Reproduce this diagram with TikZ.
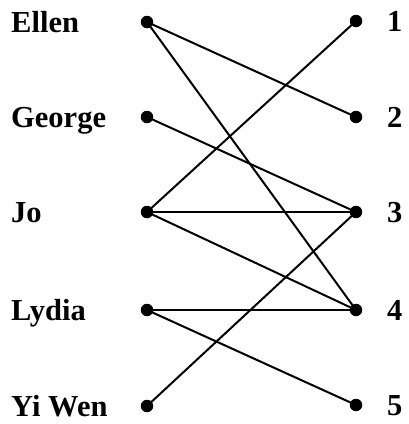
\documentclass[tikz,border=0pt]{standalone}
\usepackage{fontspec}
\setmainfont{Liberation Serif}
\begin{document}
\begin{tikzpicture}[x=1pt,y=-1pt,
  vdot/.style={circle,fill=black,inner sep=0pt,minimum size=12.5pt},
  lab/.style={anchor=base west,inner sep=0pt,font=\fontsize{30.5}{32}\selectfont\bfseries},
  edge/.style={line width=2pt}]
\useasboundingbox (0,0) rectangle (409,424);
\foreach \n/\t/\y in {e/Ellen/22,g/George/117,j/Jo/212,l/Lydia/310,y/Yi Wen/406}{
  \node[vdot] (\n) at (147,\y) {};
  \node[lab] (t\n) at (11,\y+10.5) {\t};
}
\foreach \n/\y in {1/21,2/117,3/212,4/310,5/405}{
  \node[vdot] (r\n) at (356,\y) {};
  \node[lab] (tr\n) at (387,\y+10.5) {\n};
}
\draw[edge] (e.center) -- (r2.center);
\draw[edge] (e.center) -- (r4.center);
\draw[edge] (g.center) -- (r3.center);
\draw[edge] (j.center) -- (r1.center);
\draw[edge] (j.center) -- (r3.center);
\draw[edge] (j.center) -- (r4.center);
\draw[edge] (l.center) -- (r4.center);
\draw[edge] (l.center) -- (r5.center);
\draw[edge] (y.center) -- (r3.center);
\end{tikzpicture}
\end{document}
